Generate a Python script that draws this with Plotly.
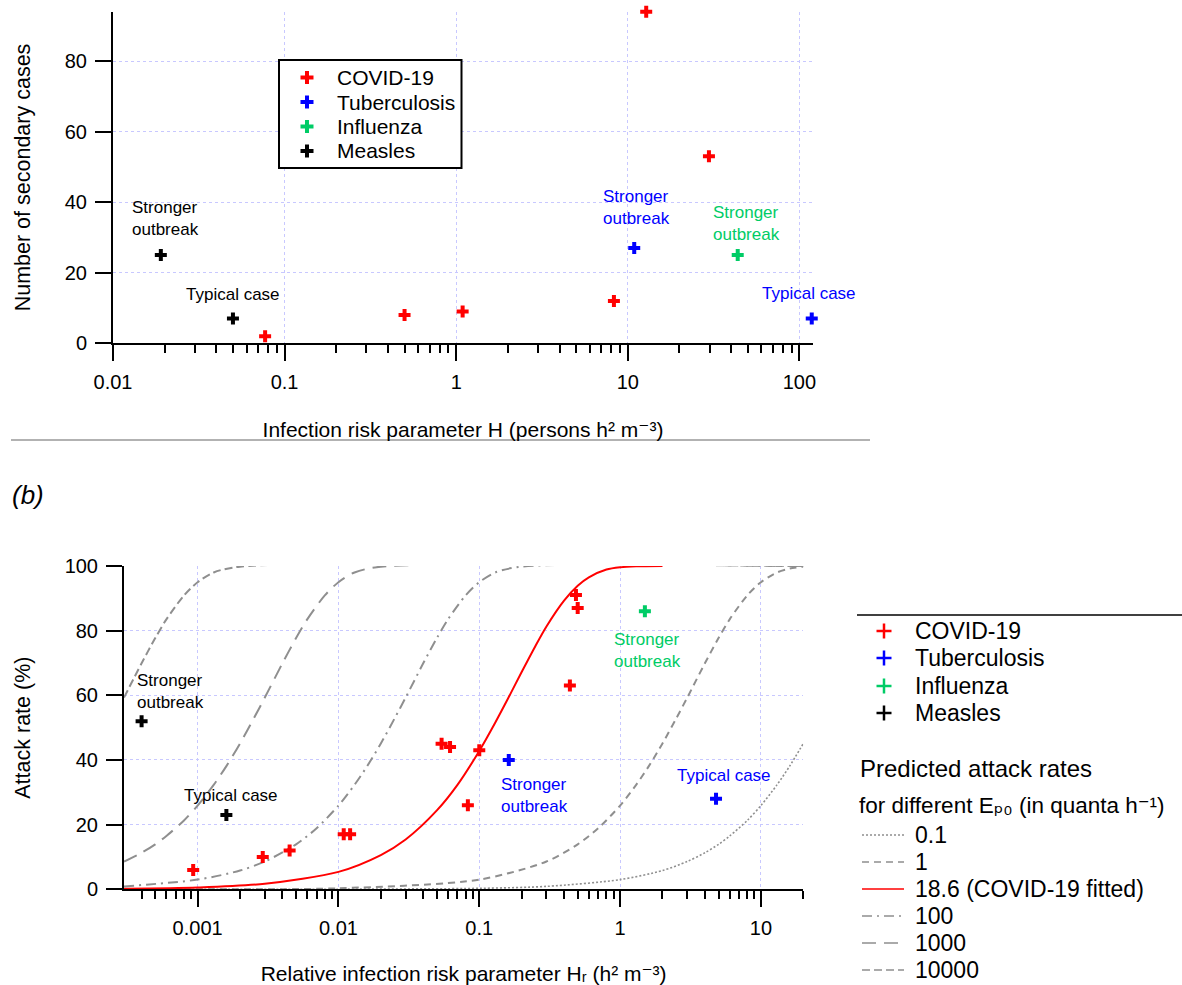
import math
import plotly.graph_objects as go

# ---------------- data: panel (a) ----------------
cov_a_H = [0.077, 0.50, 1.09, 8.3, 12.8, 29.7]
cov_a_n = [2, 8, 9, 12, 94, 53]
tb_a_H = [10.9, 118]
tb_a_n = [27, 7]
flu_a_H = [43.7]
flu_a_n = [25]
mea_a_H = [0.019, 0.050]
mea_a_n = [25, 7]

# ---------------- data: panel (b) ----------------
cov_b_Hr = [0.00093, 0.0029, 0.0045, 0.0109, 0.0121, 0.054, 0.062, 0.083, 0.10, 0.44, 0.486, 0.50]
cov_b_ar = [6, 10, 12, 17, 17, 45, 44, 26, 43, 63, 91, 87]
tb_b_Hr = [0.162, 4.8]
tb_b_ar = [40, 28]
flu_b_Hr = [1.5]
flu_b_ar = [86]
mea_b_Hr = [0.0004, 0.0016]
mea_b_ar = [52, 23]

# predicted attack-rate curves
hr_ep_0_1 = [0.0003, 0.01, 0.1, 0.3, 1, 2, 3, 4, 5, 6, 8, 10, 13, 16, 20]
ar_ep_0_1 = [0.0, 0.03, 0.3, 0.9, 3.0, 5.8, 8.6, 11.3, 13.9, 16.5, 21.3, 25.9, 32.3, 38.1, 45.1]

hr_ep_1 = [0.0003, 0.001, 0.01, 0.1, 0.3, 0.5, 0.7, 1, 1.3, 1.6, 2, 2.5, 3, 4, 5, 6, 8, 10, 13, 16, 20]
ar_ep_1 = [0.01, 0.03, 0.3, 3.0, 8.6, 13.9, 18.9, 25.9, 32.3, 38.1, 45.1, 52.8, 59.3, 69.9, 77.7, 83.5,
           90.9, 95.0, 98.0, 99.2, 99.8]

hr_ep_18_6 = [0.0003, 0.001, 0.003, 0.01, 0.02, 0.03, 0.05, 0.07, 0.1, 0.13, 0.16, 0.2, 0.25, 0.3,
              0.4, 0.5, 0.6, 0.8, 1, 1.3, 2]
ar_ep_18_6 = [0.17, 0.56, 1.7, 5.4, 10.6, 15.4, 24.4, 32.3, 42.8, 51.6, 59.0, 67.2, 75.2, 81.3,
              89.3, 93.9, 96.5, 98.9, 99.6, 99.9, 100]

hr_ep_100 = [0.0003, 0.001, 0.002, 0.003, 0.005, 0.007, 0.01, 0.013, 0.016, 0.02, 0.025, 0.03,
             0.04, 0.05, 0.06, 0.08, 0.1, 0.13, 0.2, 20]
ar_ep_100 = [0.9, 3.0, 5.8, 8.6, 13.9, 18.9, 25.9, 32.3, 38.1, 45.1, 52.8, 59.3,
             69.9, 77.7, 83.5, 90.9, 95.0, 98.0, 99.8, 100]

hr_ep_1000 = [0.0003, 0.0004, 0.0005, 0.0006, 0.0008, 0.001, 0.0013, 0.0016, 0.002, 0.0025, 0.003,
              0.004, 0.005, 0.006, 0.008, 0.01, 0.013, 0.02, 20]
ar_ep_1000 = [8.6, 11.3, 13.9, 16.5, 21.3, 25.9, 32.3, 38.1, 45.1, 52.8, 59.3,
              69.9, 77.7, 83.5, 90.9, 95.0, 98.0, 99.8, 100]

hr_ep_10000 = [0.0003, 0.0004, 0.0005, 0.0006, 0.0008, 0.001, 0.0013, 0.002, 20]
ar_ep_10000 = [59.3, 69.9, 77.7, 83.5, 90.9, 95.0, 98.0, 99.8, 100]

# legend / tick labels
diseases = ["COVID-19", "Tuberculosis", "Influenza", "Measles"]
ep0_labels = ["0.1", "1", "18.6 (COVID-19 fitted)", "100", "1000", "10000"]
a_xticks = [0.01, 0.1, 1, 10, 100]
a_xticktext = ["0.01", "0.1", "1", "10", "100"]
b_xticks = [0.001, 0.01, 0.1, 1, 10]
b_xticktext = ["0.001", "0.01", "0.1", "1", "10"]

# ---------------- styling ----------------
W, H = 1182, 985
FONT = "Arial, 'Liberation Sans', 'DejaVu Sans', Helvetica, sans-serif"
RED, BLUE, GREEN, BLACK = "#ff0000", "#0000ff", "#00cc66", "#000000"
GRAY = "#8f8f8f"
GRIDC = "#c8c8ff"
dcol = [RED, BLUE, GREEN, BLACK]


def px(x):
    return x / W


def py(y):
    return 1 - y / H


fig = go.Figure()

# ---- panel (a) markers ----
for name, xs, ys, col in zip(diseases, [cov_a_H, tb_a_H, flu_a_H, mea_a_H],
                             [cov_a_n, tb_a_n, flu_a_n, mea_a_n], dcol):
    fig.add_trace(go.Scatter(
        x=xs, y=ys, mode="markers", name=name, showlegend=False,
        marker=dict(symbol="cross", size=10, color=col, line=dict(width=0)),
        xaxis="x", yaxis="y", cliponaxis=False))

# ---- panel (b) predicted curves ----
curve_style = [(GRAY, "2px,2px", 1.6), (GRAY, "7px,5px", 2), (RED, "solid", 2),
               (GRAY, "10px,5px,2px,5px", 2), (GRAY, "14px,8px", 2), (GRAY, "8px,4px", 2)]
curve_data = [(hr_ep_0_1, ar_ep_0_1), (hr_ep_1, ar_ep_1), (hr_ep_18_6, ar_ep_18_6),
              (hr_ep_100, ar_ep_100), (hr_ep_1000, ar_ep_1000), (hr_ep_10000, ar_ep_10000)]
for name, (xs, ys), (col, dash, w) in zip(ep0_labels, curve_data, curve_style):
    fig.add_trace(go.Scatter(
        x=xs, y=ys, mode="lines", name=name, showlegend=False,
        line=dict(color=col, width=w, dash=dash, shape="spline", smoothing=0.8),
        xaxis="x2", yaxis="y2"))

# ---- panel (b) markers ----
for name, xs, ys, col in zip(diseases, [cov_b_Hr, tb_b_Hr, flu_b_Hr, mea_b_Hr],
                             [cov_b_ar, tb_b_ar, flu_b_ar, mea_b_ar], dcol):
    fig.add_trace(go.Scatter(
        x=xs, y=ys, mode="markers", name=name, showlegend=False,
        marker=dict(symbol="cross", size=10, color=col, line=dict(width=0)),
        xaxis="x2", yaxis="y2", cliponaxis=False))

# ---------------- axes ----------------
common = dict(showline=True, linecolor="black", linewidth=2, ticks="outside",
              ticklen=16, tickwidth=2, tickcolor="black", showgrid=True,
              gridcolor=GRIDC, griddash="dot", gridwidth=1, zeroline=False,
              tickfont=dict(size=20, family=FONT, color="black"),
              ticklabelstandoff=4)

a_minor = [k * 10 ** e for e in (-2, -1, 0, 1) for k in range(2, 10)]
b_minor = ([k * 1e-4 for k in range(4, 10)] +
           [k * 10 ** e for e in (-3, -2, -1, 0) for k in range(2, 10)] + [20])

fig.update_layout(
    xaxis=dict(common, domain=[px(113), px(813)], anchor="y", type="log",
               range=[-2, math.log10(120)], tickmode="array",
               tickvals=a_xticks, ticktext=a_xticktext,
               minor=dict(tickmode="array", tickvals=a_minor, ticks="outside",
                          ticklen=8, tickwidth=2, tickcolor="black", showgrid=False),
               title=dict(text="Infection risk parameter H (persons h\u00b2 m\u207b\u00b3)",
                          font=dict(size=21, family=FONT, color="black"), standoff=30)),
    yaxis=dict(common, domain=[py(343.3), py(11.7)], anchor="x",
               range=[0, 94], tick0=0, dtick=20,
               title=dict(text="Number of secondary cases",
                          font=dict(size=21.5, family=FONT, color="black"), standoff=28)),
    xaxis2=dict(common, domain=[px(124), px(803.3)], anchor="y2", type="log",
                range=[math.log10(0.0003), math.log10(20)], tickmode="array",
                tickvals=b_xticks, ticktext=b_xticktext,
                minor=dict(tickmode="array", tickvals=b_minor, ticks="outside",
                           ticklen=8, tickwidth=2, tickcolor="black", showgrid=False),
                title=dict(text="Relative infection risk parameter H\u1d63 (h\u00b2 m\u207b\u00b3)",
                           font=dict(size=21, family=FONT, color="black"), standoff=30)),
    yaxis2=dict(common, domain=[py(889.3), py(566)], anchor="x2",
                range=[0, 100], tick0=0, dtick=20,
                title=dict(text="Attack rate (%)",
                           font=dict(size=21.5, family=FONT, color="black"), standoff=28)),
)

# ---------------- annotations ----------------
def note(text, x, y, col, xref, yref, size=17):
    return dict(text=text, x=x, y=y, xref=xref, yref=yref, showarrow=False,
                xanchor="left", yanchor="middle", align="left",
                font=dict(size=size, family=FONT, color=col))


ann = [
    note("Stronger<br>outbreak", math.log10(0.0125), 35.4, BLACK, "x", "y"),
    note("Typical case", math.log10(0.0258), 13.7, BLACK, "x", "y"),
    note("Stronger<br>outbreak", math.log10(7.0), 38.6, BLUE, "x", "y"),
    note("Stronger<br>outbreak", math.log10(30.5), 34.0, GREEN, "x", "y"),
    note("Typical case", math.log10(58.9), 14.2, BLUE, "x", "y"),
    note("Stronger<br>outbreak", math.log10(0.000358), 61.1, BLACK, "x2", "y2"),
    note("Typical case", math.log10(0.000769), 29.1, BLACK, "x2", "y2"),
    note("Stronger<br>outbreak", math.log10(0.877), 73.8, GREEN, "x2", "y2"),
    note("Stronger<br>outbreak", math.log10(0.137), 29.1, BLUE, "x2", "y2"),
    note("Typical case", math.log10(2.47), 35.1, BLUE, "x2", "y2"),
    dict(text="<i>(b)</i>", x=px(10), y=py(495), xref="paper", yref="paper",
         showarrow=False, xanchor="left", yanchor="middle",
         font=dict(size=26, family=FONT, color="black")),
]

shapes = [
    # separator between the panels
    dict(type="line", xref="paper", yref="paper", x0=px(11), x1=px(870),
         y0=py(440), y1=py(440), line=dict(color="#999999", width=1.5)),
    # legend (a) frame
    dict(type="rect", xref="paper", yref="paper", x0=px(279), x1=px(461.5),
         y0=py(60), y1=py(168), line=dict(color="black", width=2), fillcolor="white"),
    # legend (b) top rule
    dict(type="line", xref="paper", yref="paper", x0=px(857), x1=1.0,
         y0=py(615), y1=py(615), line=dict(color="black", width=1.5)),
]

# ---- legend (a): thick crosses + labels ----
rows_a = [77.5, 102, 126.5, 151]
for name, col, yy in zip(diseases, dcol, rows_a):
    shapes.append(dict(type="line", xref="paper", yref="paper", x0=px(300.5), x1=px(313.5),
                       y0=py(yy), y1=py(yy), line=dict(color=col, width=4)))
    shapes.append(dict(type="line", xref="paper", yref="paper", x0=px(307), x1=px(307),
                       y0=py(yy - 6.5), y1=py(yy + 6.5), line=dict(color=col, width=4)))
    ann.append(note(name, px(335), py(yy), "black", "paper", "paper", size=21))

# ---- legend (b): thin crosses + labels ----
rows_b = [631, 658, 686, 713]
for name, col, yy in zip(diseases, dcol, rows_b):
    shapes.append(dict(type="line", xref="paper", yref="paper", x0=px(876.5), x1=px(891.5),
                       y0=py(yy), y1=py(yy), line=dict(color=col, width=2.5)))
    shapes.append(dict(type="line", xref="paper", yref="paper", x0=px(884), x1=px(884),
                       y0=py(yy - 7.5), y1=py(yy + 7.5), line=dict(color=col, width=2.5)))
    ann.append(note(name, px(913), py(yy), "black", "paper", "paper", size=23))

ann.append(note("Predicted attack rates", px(858), py(768), "black", "paper", "paper", size=24))
ann.append(note("for different E\u209a\u2080 (in quanta h\u207b\u00b9)", px(857), py(805),
                "black", "paper", "paper", size=22.5))

rows_c = [835, 862, 889, 916, 943, 970]
for name, (col, dash, w), yy in zip(ep0_labels, curve_style, rows_c):
    shapes.append(dict(type="line", xref="paper", yref="paper", x0=px(862), x1=px(904),
                       y0=py(yy), y1=py(yy), line=dict(color=col, width=1.5, dash=dash)))
    ann.append(note(name, px(913), py(yy), "black", "paper", "paper", size=23))

fig.update_layout(
    width=W, height=H,
    margin=dict(l=0, r=0, t=0, b=0, autoexpand=False),
    paper_bgcolor="white", plot_bgcolor="white",
    font=dict(family=FONT, color="black"),
    showlegend=False,
    annotations=ann, shapes=shapes,
)

fig.write_html("out.html", config={"displayModeBar": False},
               post_script="document.body.style.margin='0';")
